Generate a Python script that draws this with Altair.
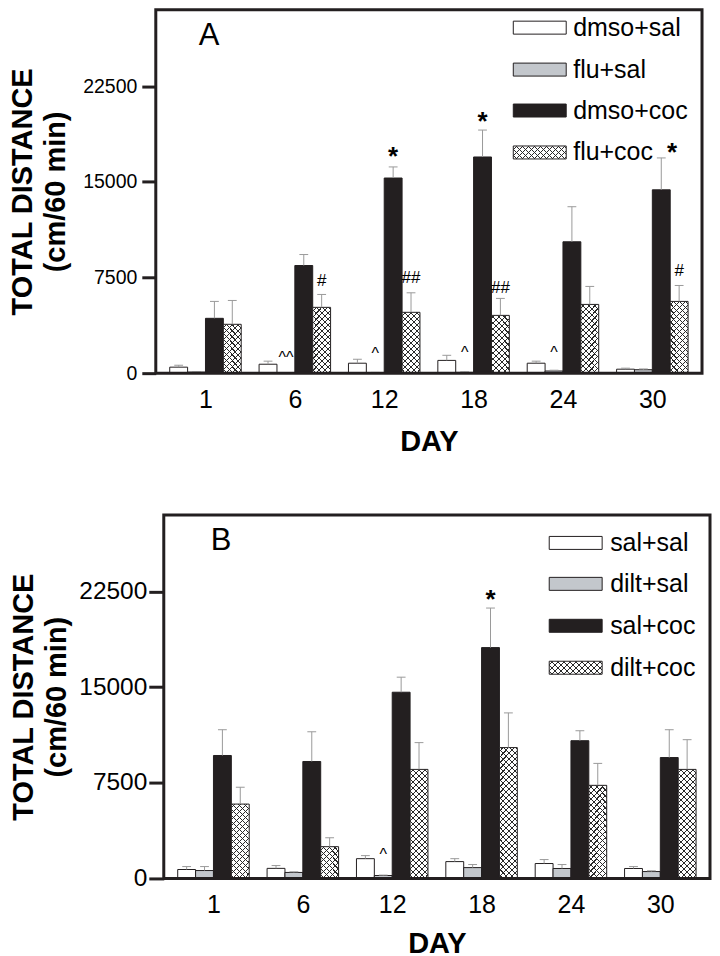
import altair as alt
import pandas as pd

# ---------------- data ----------------
DAYS = ["1", "6", "12", "18", "24", "30"]

A_GROUPS = ["dmso+sal", "flu+sal", "dmso+coc", "flu+coc"]
A_DMSO_SAL = [470, 700, 780, 1000, 780, 310]
A_DMSO_SAL_ERR = [150, 240, 310, 400, 160, 80]
A_FLU_SAL = [80, 30, 40, 60, 170, 270]
A_FLU_SAL_ERR = [40, 20, 20, 40, 60, 60]
A_DMSO_COC = [4300, 8440, 15300, 16950, 10300, 14375]
A_DMSO_COC_ERR = [1325, 860, 870, 2110, 2750, 2500]
A_FLU_COC = [3830, 5160, 4770, 4530, 5390, 5625]
A_FLU_COC_ERR = [1870, 1010, 1530, 1330, 1410, 1250]

B_GROUPS = ["sal+sal", "dilt+sal", "sal+coc", "dilt+coc"]
B_SAL_SAL = [700, 790, 1550, 1320, 1170, 780]
B_SAL_SAL_ERR = [230, 220, 240, 230, 310, 150]
B_DILT_SAL = [620, 470, 230, 850, 780, 540]
B_DILT_SAL_ERR = [310, 50, 30, 240, 310, 60]
B_SAL_COC = [9640, 9170, 14600, 18100, 10800, 9480]
B_SAL_COC_ERR = [2020, 2330, 1180, 3100, 780, 2180]
B_DILT_COC = [5830, 2490, 8550, 10260, 7300, 8550]
B_DILT_COC_ERR = [1320, 700, 2100, 2720, 1720, 2330]

# significance marks: day, group, symbol, y position (data units), sideways nudge (bar widths)
A_MARK_DAY = ["6", "6", "12", "12", "12", "18", "18", "18", "24", "30", "30"]
A_MARK_GROUP = ["flu+sal", "flu+coc", "flu+sal", "dmso+coc", "flu+coc",
                "flu+sal", "dmso+coc", "flu+coc", "flu+sal", "dmso+coc", "flu+coc"]
A_MARK_TEXT = ["^^", "#", "^", "*", "##", "^", "*", "##", "^", "*", "#"]
A_MARK_Y = [1480, 7270, 1800, 17500, 7500, 1870, 20230, 6720, 1870, 17800, 8125]
A_MARK_NUDGE = [0, 0, 0, 0, 0, 0, 0, 0, 0, 0.6, 0]

B_MARK_DAY = ["12", "18"]
B_MARK_GROUP = ["dilt+sal", "sal+coc"]
B_MARK_TEXT = ["^", "*"]
B_MARK_Y = [2180, 22380]
B_MARK_NUDGE = [0, 0]

Y_TICKS = [0, 7500, 15000, 22500]
Y_MAX = 28500

# ---------------- styling ----------------
PW, H = 547, 364
FONT = "Liberation Sans"
INK = "#231f20"
GREY = "#c3c7cc"
ERR = "#9a9a9a"
FILLS = ["white", GREY, INK, "white"]
CLEAR = "rgba(255,255,255,0)"
HATCH = "#2a2a2a"
NSLOT = 30                      # 6 groups x (4 bars + 1 gap)
SUBW = PW / NSLOT
CAP = 9.0 / SUBW                # error-bar cap width in slot units


def hatch(w, h, direction, period=6.0, lw=1.1):
    L = w + h
    a = L / (w * w + h * h)
    if direction == 1:
        x1, y1, x2, y2 = 0, 0, a * w, a * h
    else:
        x1, y1, x2, y2 = 0, 1, a * w, 1 - a * h
    stops = [alt.GradientStop(offset=0, color=CLEAR)]
    pos = period / 2.0
    while pos < L:
        t0 = pos / L
        t1 = min((pos + lw) / L, 1.0)
        stops += [alt.GradientStop(offset=t0, color=CLEAR),
                  alt.GradientStop(offset=t0, color=HATCH),
                  alt.GradientStop(offset=t1, color=HATCH),
                  alt.GradientStop(offset=t1, color=CLEAR)]
        pos += period
    stops.append(alt.GradientStop(offset=1, color=CLEAR))
    return alt.LinearGradient(gradient="linear", stops=stops, x1=x1, y1=y1, x2=x2, y2=y2)


def panel(letter, groups, series, errors, mdays, mgroups, mtexts, mys, mnudge,
          shift, ylab_size, ytitle_pad, ytick_size, ylab_pad, xtitle_pad, leg, letter_xy):
    rows = []
    for gi, (g, vals, errs) in enumerate(zip(groups, series, errors)):
        for di, (d, v, e) in enumerate(zip(DAYS, vals, errs)):
            p = 5 * di + gi
            rows.append({"day": d, "group": g, "gi": gi, "x0": p, "x1": p + 1,
                         "xc": p + 0.5, "cl": p + 0.5 - CAP / 2, "cr": p + 0.5 + CAP / 2,
                         "mean": v, "top": v + e})
    df = pd.DataFrame(rows)

    xscale = alt.Scale(domain=[-0.5, NSLOT - 0.5], range=[shift, shift + PW],
                       nice=False, zero=False)
    label_expr = "[" + ",".join(f"'{d}'" for d in DAYS) + "][round((datum.value - 2) / 5)]"
    x_enc = alt.X("x0:Q", scale=xscale,
                  axis=alt.Axis(title="DAY", values=[5 * i + 2 for i in range(6)],
                                labelExpr=label_expr, grid=False,
                                ticks=False, domain=False,
                                labelFont=FONT, labelFontSize=25, labelPadding=14,
                                labelColor="black", labelFlush=False,
                                titleFont=FONT, titleFontSize=29, titleFontWeight="bold",
                                titleColor="black", titlePadding=xtitle_pad))
    y_enc = alt.Y("mean:Q",
                  scale=alt.Scale(domain=[0, Y_MAX], nice=False, zero=True, padding=0),
                  axis=alt.Axis(values=Y_TICKS, format="d", grid=False, domain=False,
                                offset=-shift,
                                tickSize=ytick_size, tickWidth=3, tickColor=INK,
                                labelFont=FONT, labelFontSize=ylab_size,
                                labelPadding=ylab_pad, labelColor="black",
                                title=["TOTAL DISTANCE", "(cm/60 min)"],
                                titleFont=FONT, titleFontSize=29, titleFontWeight="bold",
                                titleLineHeight=33, titleColor="black",
                                titlePadding=ytitle_pad))

    bars = alt.Chart().mark_bar(stroke=INK, strokeWidth=1, orient="vertical").encode(
        x=x_enc, x2="x1:Q", y=y_enc, y2=alt.Y2Datum(0),
        fill=alt.Fill("group:N", sort=groups,
                      scale=alt.Scale(domain=groups, range=FILLS), legend=None),
    )
    layers = [bars]

    # cross-hatching on the 4th group
    hg = groups[3]
    for d, v in zip(DAYS, series[3]):
        h = v / Y_MAX * H
        for direction in (1, 2):
            layers.append(
                alt.Chart().mark_bar(fill=hatch(SUBW, h, direction), strokeWidth=0,
                                     orient="vertical")
                .encode(x=alt.X("x0:Q"), x2="x1:Q", y=alt.Y("mean:Q"), y2=alt.Y2Datum(0))
                .transform_filter(f"datum.day == '{d}' && datum.group == '{hg}'")
            )

    err_rule = alt.Chart().mark_rule(color=ERR, strokeWidth=1).encode(
        x=alt.X("xc:Q"), y=alt.Y("mean:Q"), y2="top:Q")
    err_cap = alt.Chart().mark_rule(color=ERR, strokeWidth=1).encode(
        x=alt.X("cl:Q"), x2="cr:Q", y=alt.Y("top:Q"))
    layers += [err_rule, err_cap]

    mx = [5 * DAYS.index(d) + groups.index(g) + 0.5 + n for d, g, n in zip(mdays, mgroups, mnudge)]
    mdf = pd.DataFrame({"xm": mx, "txt": mtexts, "mean": mys})
    styles = {"*": (26, 15, "bold"), "#": (17, 6, "normal"), "^": (16, 9, "normal")}
    for key, (fs, dy, fw) in styles.items():
        sub = mdf[mdf["txt"].str[0] == key]
        if len(sub) == 0:
            continue
        layers.append(
            alt.Chart(sub).mark_text(font=FONT, fontSize=fs, dy=dy, fontWeight=fw,
                                     baseline="alphabetic", color="black")
            .encode(x=alt.X("xm:Q"), y=alt.Y("mean:Q"), text="txt:N")
        )

    # plot frame
    one = pd.DataFrame({"k": [0]})
    layers.append(alt.Chart(one).mark_rect(fillOpacity=0, stroke=INK, strokeWidth=3).encode(
        x=alt.value(shift), x2=alt.value(shift + PW), y=alt.value(0), y2=alt.value(H)))

    # legend (drawn inside the plot frame)
    lx0, lx1, tx, ys = leg
    for i, g in enumerate(groups):
        yc = ys[i]
        lab = pd.DataFrame({"label": [g]})
        box = dict(x=alt.value(lx0), x2=alt.value(lx1), y=alt.value(yc - 6.5), y2=alt.value(yc + 6.5))
        layers.append(alt.Chart(lab).mark_rect(fill=FILLS[i], stroke=INK, strokeWidth=1).encode(**box))
        if i == 3:
            for direction in (1, 2):
                layers.append(alt.Chart(lab).mark_rect(
                    fill=hatch(lx1 - lx0, 13, direction, period=6.0, lw=1.0), strokeWidth=0).encode(**box))
        layers.append(alt.Chart(lab).mark_text(font=FONT, fontSize=25, align="left",
                                               baseline="middle", color="black")
                      .encode(x=alt.value(tx), y=alt.value(yc), text="label:N"))

    lt = pd.DataFrame({"label": [letter]})
    layers.append(alt.Chart(lt).mark_text(font=FONT, fontSize=31, align="left",
                                          baseline="middle", color="black")
                  .encode(x=alt.value(letter_xy[0]), y=alt.value(letter_xy[1]), text="label:N"))

    return alt.layer(*layers, data=df).properties(
        width=PW + shift, height=H,
        view=alt.ViewBackground(stroke="transparent", strokeWidth=0))


pA = panel("A", A_GROUPS,
           [A_DMSO_SAL, A_FLU_SAL, A_DMSO_COC, A_FLU_COC],
           [A_DMSO_SAL_ERR, A_FLU_SAL_ERR, A_DMSO_COC_ERR, A_FLU_COC_ERR],
           A_MARK_DAY, A_MARK_GROUP, A_MARK_TEXT, A_MARK_Y, A_MARK_NUDGE,
           shift=0, ylab_size=19.5, ytitle_pad=12, ytick_size=14, ylab_pad=5, xtitle_pad=15,
           leg=(358, 411, 418, [18, 60, 101, 143]), letter_xy=(43, 26))

pB = panel("B", B_GROUPS,
           [B_SAL_SAL, B_DILT_SAL, B_SAL_COC, B_DILT_COC],
           [B_SAL_SAL_ERR, B_DILT_SAL_ERR, B_SAL_COC_ERR, B_DILT_COC_ERR],
           B_MARK_DAY, B_MARK_GROUP, B_MARK_TEXT, B_MARK_Y, B_MARK_NUDGE,
           shift=8, ylab_size=24.5, ytitle_pad=7, ytick_size=15, ylab_pad=2, xtitle_pad=12,
           leg=(394, 447, 455, [28, 69, 111, 153]), letter_xy=(55, 26))

chart = alt.vconcat(pA, pB, spacing=57).properties(
    padding={"left": 0, "top": -1, "right": 0, "bottom": 0}
).configure(font=FONT)

chart.save("out.html", embed_options={"renderer": "svg", "actions": False})
